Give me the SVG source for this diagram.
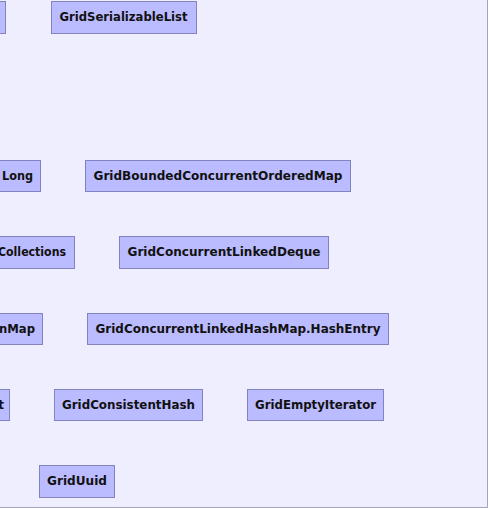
<svg xmlns="http://www.w3.org/2000/svg" width="488" height="508" viewBox="0 0 488 508">
<style>
.bg{fill:#EEEEFF}
.node rect{fill:#BBBBFF;stroke:#8383C0;stroke-width:1}
.node text{font-family:"DejaVu Sans","Liberation Sans",sans-serif;font-weight:bold;font-size:12px;fill:#111111}
.c{text-anchor:middle}
.e{text-anchor:end}
.frame{stroke:#A4A4B4;stroke-width:1;fill:none}
</style>
<rect class="bg" x="0" y="0" width="488" height="508"/>
<g id="connectors"></g>
<g id="n0" class="node"><rect x="-20.5" y="1.5" width="26" height="32"/></g>
<g id="n1" class="node"><rect x="51.5" y="1.5" width="145" height="32"/><text class="c" x="123.5" y="21" textLength="128" lengthAdjust="spacingAndGlyphs">GridSerializableList</text></g>
<g id="n2" class="node"><rect x="-40.5" y="160.5" width="81" height="31"/><text class="e" x="33" y="179.5" textLength="31" lengthAdjust="spacingAndGlyphs">Long</text></g>
<g id="n3" class="node"><rect x="85.5" y="160.5" width="265" height="31"/><text class="c" x="218" y="179.5" textLength="249" lengthAdjust="spacingAndGlyphs">GridBoundedConcurrentOrderedMap</text></g>
<g id="n4" class="node"><rect x="-40.5" y="236.5" width="115" height="32"/><text class="e" x="66" y="256" textLength="68" lengthAdjust="spacingAndGlyphs">Collections</text></g>
<g id="n5" class="node"><rect x="119.5" y="236.5" width="209" height="32"/><text class="c" x="224" y="256" textLength="193" lengthAdjust="spacingAndGlyphs">GridConcurrentLinkedDeque</text></g>
<g id="n6" class="node"><rect x="-40.5" y="313.5" width="83" height="31"/><text class="e" x="35" y="332.5" textLength="36" lengthAdjust="spacingAndGlyphs">nMap</text></g>
<g id="n7" class="node"><rect x="87.5" y="313.5" width="301" height="31"/><text class="c" x="238" y="332.5" textLength="285" lengthAdjust="spacingAndGlyphs">GridConcurrentLinkedHashMap.HashEntry</text></g>
<g id="n8" class="node"><rect x="-40.5" y="389.5" width="50" height="31"/><text class="e" x="4" y="408.5">t</text></g>
<g id="n9" class="node"><rect x="54.5" y="389.5" width="148" height="31"/><text class="c" x="128.5" y="408.5" textLength="133" lengthAdjust="spacingAndGlyphs">GridConsistentHash</text></g>
<g id="n10" class="node"><rect x="247.5" y="389.5" width="136" height="31"/><text class="c" x="315.5" y="408.5" textLength="121" lengthAdjust="spacingAndGlyphs">GridEmptyIterator</text></g>
<g id="n11" class="node"><rect x="39.5" y="465.5" width="75" height="32"/><text class="c" x="77" y="485" textLength="60" lengthAdjust="spacingAndGlyphs">GridUuid</text></g>
<path class="frame" d="M487.5 0V507.5H0"/>
</svg>
